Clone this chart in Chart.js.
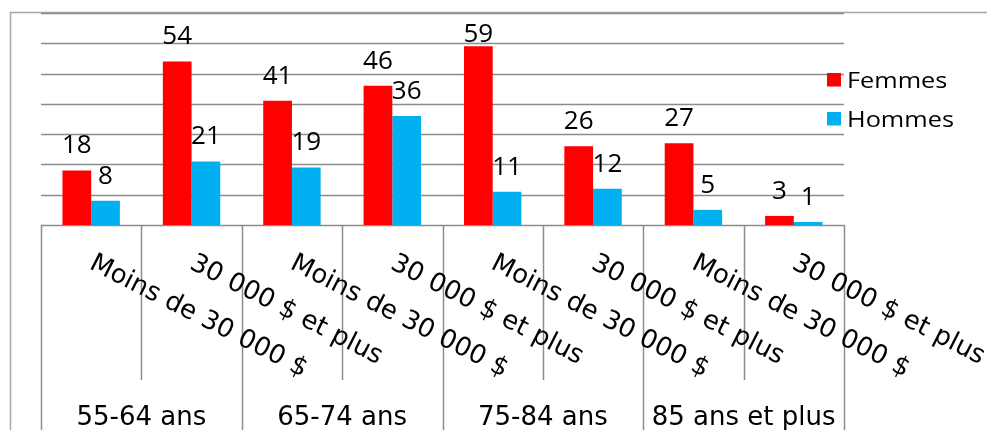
<!DOCTYPE html>
<html><head><meta charset="utf-8">
<script src="https://cdn.jsdelivr.net/npm/chart.js@4/dist/chart.umd.min.js"></script>
<style>html,body{margin:0;padding:0;background:#fff;}canvas{display:block;}</style>
</head><body>
<canvas id="c" width="987" height="430"></canvas>
<script>
const categories = ["Moins de 30 000 $","30 000 $ et plus","Moins de 30 000 $","30 000 $ et plus","Moins de 30 000 $","30 000 $ et plus","Moins de 30 000 $","30 000 $ et plus"];
const groups = ["55-64 ans","65-74 ans","75-84 ans","85 ans et plus"];
const femmes = [18,54,41,46,59,26,27,3];
const hommes = [8,21,19,36,11,12,5,1];
const yTicks = [0,10,20,30,40,50,60,70];
const seriesNames = ["Femmes","Hommes"];
const seriesColors = ["#FF0000","#00B0F0"];

const GRID = '#8c8c8c';
const FRAME = '#a6a6a6';

const customPlugin = {
  id: 'custom',
  beforeDatasetsDraw(chart) {
    const {ctx, chartArea: a, scales: {x, y}} = chart;
    ctx.save();
    ctx.strokeStyle = FRAME; ctx.lineWidth = 1.5;
    ctx.beginPath();
    ctx.moveTo(10.5, 430); ctx.lineTo(10.5, 12.5); ctx.lineTo(987, 12.5);
    ctx.stroke();
    ctx.strokeStyle = GRID; ctx.lineWidth = 1.5;
    yTicks.forEach(v => {
      const py = Math.round(y.getPixelForValue(v)) + 0.5;
      ctx.beginPath(); ctx.moveTo(a.left, py); ctx.lineTo(a.right, py); ctx.stroke();
    });
    const half = (x.getPixelForValue(1) - x.getPixelForValue(0)) / 2;
    const base = y.getPixelForValue(0);
    for (let i = 0; i <= categories.length; i++) {
      const bx = Math.round(i < categories.length ? x.getPixelForValue(i) - half : x.getPixelForValue(categories.length - 1) + half) + 0.5;
      ctx.beginPath(); ctx.moveTo(bx, base); ctx.lineTo(bx, i % 2 === 0 ? 430 : 380); ctx.stroke();
    }
    ctx.restore();
  },
  afterDraw(chart) {
    const {ctx, scales: {x, y}} = chart;
    ctx.save();
    ctx.fillStyle = '#000';
    ctx.font = '26px "DejaVu Sans"';
    ctx.textAlign = 'left'; ctx.textBaseline = 'alphabetic';
    categories.forEach((c, i) => {
      ctx.save();
      ctx.translate(x.getPixelForValue(i) - 3, 268);
      ctx.rotate(27 * Math.PI / 180);
      ctx.fillText(c, 0, 0);
      ctx.restore();
    });
    ctx.textAlign = 'center';
    groups.forEach((g, gi) => {
      const cx = (x.getPixelForValue(gi * 2) + x.getPixelForValue(gi * 2 + 1)) / 2;
      ctx.fillText(g, cx, 425);
    });
    ctx.font = '26px "Open Sans"';
    ctx.textAlign = 'center';
    chart.data.datasets.forEach((ds, d) => {
      chart.getDatasetMeta(d).data.forEach((el, i) => {
        ctx.fillText(String(ds.data[i]), el.x, Math.max(el.y - 17, 42));
      });
    });
    ctx.textAlign = 'left';
    ctx.font = '22px "Open Sans"';
    const legY = [88, 127];
    seriesNames.forEach((n, k) => {
      ctx.fillStyle = seriesColors[k];
      ctx.fillRect(827, legY[k] - 15, 14, 13.5);
      ctx.fillStyle = '#000';
      ctx.save();
      ctx.translate(847, legY[k]);
      ctx.scale(1.15, 1);
      ctx.fillText(n, 0, 0);
      ctx.restore();
    });
    ctx.restore();
  }
};

new Chart(document.getElementById('c'), {
  type: 'bar',
  data: {
    labels: categories,
    datasets: [
      {label: seriesNames[0], data: femmes, backgroundColor: seriesColors[0], borderWidth: 0},
      {label: seriesNames[1], data: hommes, backgroundColor: seriesColors[1], borderWidth: 0}
    ]
  },
  options: {
    responsive: false,
    devicePixelRatio: 1,
    animation: false,
    events: [],
    layout: {padding: {left: 41, right: 143, top: 13, bottom: 205}},
    datasets: {bar: {categoryPercentage: 0.572, barPercentage: 1.0}},
    scales: {
      x: {display: false, offset: true},
      y: {display: false, min: 0, max: 70, ticks: {stepSize: 10}}
    },
    plugins: {legend: {display: false}, tooltip: {enabled: false}}
  },
  plugins: [customPlugin]
});
</script>
</body></html>
